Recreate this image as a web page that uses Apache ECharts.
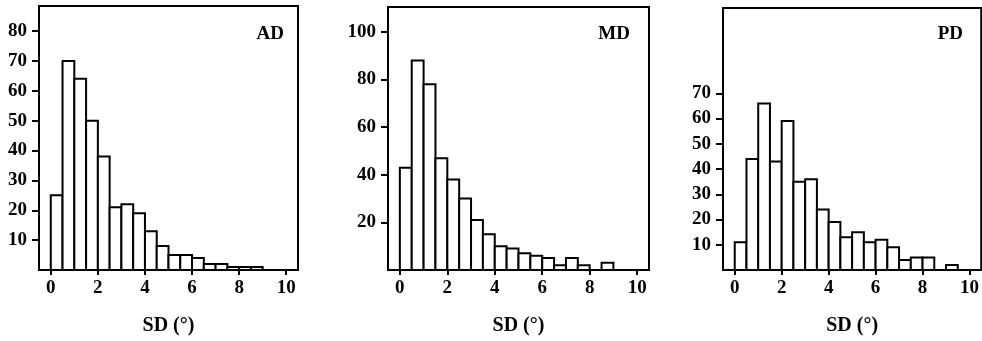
<!DOCTYPE html>
<html>
<head>
<meta charset="utf-8">
<script src="https://cdn.jsdelivr.net/npm/echarts@6/dist/echarts.min.js"></script>
<style>
  html, body { margin: 0; padding: 0; background: #fff; }
  #chart { width: 982px; height: 341px; }
</style>
</head>
<body>
<div id="chart"></div>
<script>
// bin edges (0.5 wide)
const binStart = [0, 0.5, 1, 1.5, 2, 2.5, 3, 3.5, 4, 4.5, 5, 5.5, 6, 6.5, 7, 7.5, 8, 8.5, 9];
const binEnd = [0.5, 1, 1.5, 2, 2.5, 3, 3.5, 4, 4.5, 5, 5.5, 6, 6.5, 7, 7.5, 8, 8.5, 9, 9.5];

const adCounts = [25, 70, 64, 50, 38, 21, 22, 19, 13, 8, 5, 5, 4, 2, 2, 1, 1, 1];
const mdCounts = [43, 88, 78, 47, 38, 30, 21, 15, 10, 9, 7, 6, 5, 2, 5, 2, 0, 3];
const pdCounts = [11, 44, 66, 43, 59, 35, 36, 24, 19, 13, 15, 11, 12, 9, 4, 5, 5, 0, 2];

const xTicks = [0, 2, 4, 6, 8, 10];
const adYTicks = [10, 20, 30, 40, 50, 60, 70, 80];
const mdYTicks = [20, 40, 60, 80, 100];
const pdYTicks = [10, 20, 30, 40, 50, 60, 70];

const panelNames = ['AD', 'MD', 'PD'];
const xName = 'SD (°)';

const font = "'Liberation Serif', 'DejaVu Serif', serif";

const toBins = counts => counts
  .map((c, i) => [binStart[i], binEnd[i], c])
  .filter(d => d[2] > 0);

const renderBar = (params, api) => {
  const top = api.coord([api.value(0), api.value(2)]);
  const bottom = api.coord([api.value(1), 0]);
  return {
    type: 'rect',
    shape: { x: top[0], y: top[1], width: bottom[0] - top[0], height: bottom[1] - top[1] },
    style: { fill: '#fff', stroke: '#000', lineWidth: 2 },
  };
};

const grids = [
  { left: 39, top: 6, width: 259, height: 264 },
  { left: 388, top: 7, width: 261, height: 263 },
  { left: 723, top: 8, width: 262, height: 262 },
];
const yMax = [88.4, 110.5, 103.8];
const yTicks = [adYTicks, mdYTicks, pdYTicks];
const counts = [adCounts, mdCounts, pdCounts];
const titleRight = [693, 347, 14];

const option = {
  backgroundColor: '#fff',
  animation: false,
  title: panelNames.map((n, i) => ({
    text: n,
    right: titleRight[i],
    top: 20,
    textStyle: { fontFamily: font, fontWeight: 'bold', fontSize: 19, color: '#000' },
  })),
  grid: grids.map(g => ({ ...g, show: true, borderColor: '#000', borderWidth: 2, backgroundColor: 'transparent' })),
  xAxis: grids.map((g, i) => ({
    type: 'value',
    gridIndex: i,
    min: -0.5,
    max: 10.5,
    name: xName,
    nameLocation: 'middle',
    nameGap: 46,
    nameTextStyle: { fontFamily: font, fontWeight: 'bold', fontSize: 20, color: '#000' },
    axisLine: { show: true, onZero: false, lineStyle: { color: '#000', width: 2 } },
    axisTick: { show: true, length: 5, customValues: xTicks, lineStyle: { color: '#000', width: 2 } },
    axisLabel: { customValues: xTicks, margin: 9, fontFamily: font, fontWeight: 'bold', fontSize: 19, color: '#000' },
    splitLine: { show: false },
  })),
  yAxis: grids.map((g, i) => ({
    type: 'value',
    gridIndex: i,
    min: 0,
    max: yMax[i],
    axisLine: { show: true, onZero: false, lineStyle: { color: '#000', width: 2 } },
    axisTick: { show: true, length: 7, customValues: yTicks[i], lineStyle: { color: '#000', width: 2 } },
    axisLabel: { customValues: yTicks[i], margin: 12, fontFamily: font, fontWeight: 'bold', fontSize: 19, color: '#000' },
    splitLine: { show: false },
  })),
  series: counts.map((c, i) => ({
    type: 'custom',
    xAxisIndex: i,
    yAxisIndex: i,
    renderItem: renderBar,
    encode: { x: [0, 1], y: 2 },
    data: toBins(c),
  })),
};

const chart = echarts.init(document.getElementById('chart'), null, { renderer: 'canvas' });
chart.setOption(option);
</script>
</body>
</html>
